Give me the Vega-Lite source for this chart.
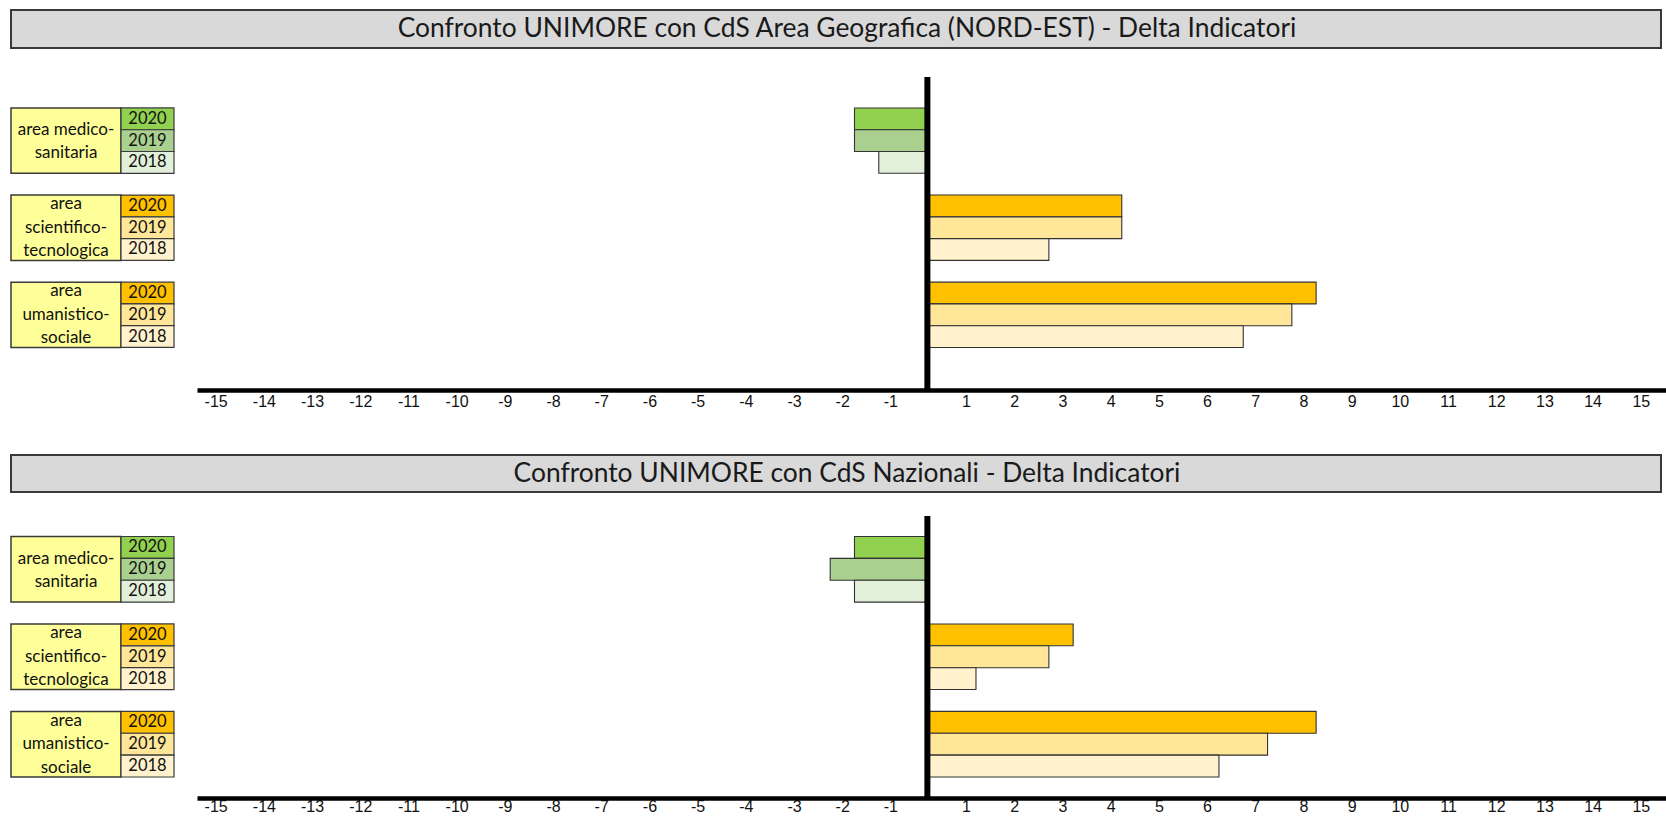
{
  "$schema": "https://vega.github.io/schema/vega-lite/v6.json",
  "padding": {"left": 10, "top": 9, "right": 0, "bottom": 0},
  "background": "white",
  "config": {"view": {"stroke": null}},
  "datasets": {
    "geo": [
      {"area": "area medico-sanitaria", "year": "2020", "row": "area medico-sanitaria 2020", "delta": -1.5},
      {"area": "area medico-sanitaria", "year": "2019", "row": "area medico-sanitaria 2019", "delta": -1.5},
      {"area": "area medico-sanitaria", "year": "2018", "row": "area medico-sanitaria 2018", "delta": -1.0},
      {"area": "area scientifico-tecnologica", "year": "2020", "row": "area scientifico-tecnologica 2020", "delta": 4.0},
      {"area": "area scientifico-tecnologica", "year": "2019", "row": "area scientifico-tecnologica 2019", "delta": 4.0},
      {"area": "area scientifico-tecnologica", "year": "2018", "row": "area scientifico-tecnologica 2018", "delta": 2.5},
      {"area": "area umanistico-sociale", "year": "2020", "row": "area umanistico-sociale 2020", "delta": 8.0},
      {"area": "area umanistico-sociale", "year": "2019", "row": "area umanistico-sociale 2019", "delta": 7.5},
      {"area": "area umanistico-sociale", "year": "2018", "row": "area umanistico-sociale 2018", "delta": 6.5}
    ],
    "naz": [
      {"area": "area medico-sanitaria", "year": "2020", "row": "area medico-sanitaria 2020", "delta": -1.5},
      {"area": "area medico-sanitaria", "year": "2019", "row": "area medico-sanitaria 2019", "delta": -2.0},
      {"area": "area medico-sanitaria", "year": "2018", "row": "area medico-sanitaria 2018", "delta": -1.5},
      {"area": "area scientifico-tecnologica", "year": "2020", "row": "area scientifico-tecnologica 2020", "delta": 3.0},
      {"area": "area scientifico-tecnologica", "year": "2019", "row": "area scientifico-tecnologica 2019", "delta": 2.5},
      {"area": "area scientifico-tecnologica", "year": "2018", "row": "area scientifico-tecnologica 2018", "delta": 1.0},
      {"area": "area umanistico-sociale", "year": "2020", "row": "area umanistico-sociale 2020", "delta": 8.0},
      {"area": "area umanistico-sociale", "year": "2019", "row": "area umanistico-sociale 2019", "delta": 7.0},
      {"area": "area umanistico-sociale", "year": "2018", "row": "area umanistico-sociale 2018", "delta": 6.0}
    ],
    "areas": [
      {"area": "area medico-sanitaria", "label": "area medico-\nsanitaria"},
      {"area": "area scientifico-tecnologica", "label": "area\nscientifico-\ntecnologica"},
      {"area": "area umanistico-sociale", "label": "area\numanistico-\nsociale"}
    ]
  },
  "resolve": {"scale": {"x": "independent", "y": "independent", "fill": "independent"}},
  "spacing": 45,
  "vconcat": [
    {
      "spacing": 25,
      "resolve": {"scale": {"x": "independent", "y": "independent", "fill": "independent"}},
      "vconcat": [
        {
          "width": 1650, "height": 38,
          "view": {"fill": "#D9D9D9", "stroke": "#3a3a3a", "strokeWidth": 2},
          "data": {"values": [{"titolo": "Confronto UNIMORE con CdS Area Geografica (NORD-EST) - Delta Indicatori"}]},
          "mark": {"type": "text", "font": "Lato", "fontSize": 26.4, "dx": 11, "color": "#1a1a1a"},
          "encoding": {"text": {"field": "titolo"}}
        },
        {
          "bounds": "flush",
          "spacing": 0,
          "resolve": {"scale": {"x": "independent", "y": "independent", "fill": "independent"}},
          "hconcat": [
            {
              "width": 110, "height": 313,
              "data": {"name": "areas"},
              "layer": [
                {
                  "mark": {"type": "rect", "fill": "#FFFF99", "stroke": "#3a3a3a", "strokeWidth": 1.5},
                  "encoding": {"y": {"field": "area", "type": "nominal", "sort": null,
                    "scale": {"domain": ["area medico-sanitaria", "area scientifico-tecnologica", "area umanistico-sociale"], "paddingInner": 0.25, "paddingOuter": 0.422, "align": 0.422}, "axis": null}}
                },
                {
                  "transform": [{"filter": "datum.area == 'area medico-sanitaria'"}],
                  "mark": {"type": "text", "font": "Lato", "fontSize": 17, "lineBreak": "\n", "lineHeight": 23, "dy": -10.5, "color": "#111111"},
                  "encoding": {"y": {"field": "area", "type": "nominal", "sort": null,
                    "scale": {"domain": ["area medico-sanitaria", "area scientifico-tecnologica", "area umanistico-sociale"], "paddingInner": 0.25, "paddingOuter": 0.422, "align": 0.422}, "axis": null},
                    "text": {"field": "label"}}
                },
                {
                  "transform": [{"filter": "datum.area != 'area medico-sanitaria'"}],
                  "mark": {"type": "text", "font": "Lato", "fontSize": 17, "lineBreak": "\n", "lineHeight": 23.5, "dy": -23.5, "color": "#111111"},
                  "encoding": {"y": {"field": "area", "type": "nominal", "sort": null,
                    "scale": {"domain": ["area medico-sanitaria", "area scientifico-tecnologica", "area umanistico-sociale"], "paddingInner": 0.25, "paddingOuter": 0.422, "align": 0.422}, "axis": null},
                    "text": {"field": "label"}}
                }
              ]
            },
            {
              "width": 76, "height": 313,
              "data": {"name": "geo"},
              "layer": [
                {
                  "mark": {"type": "rect", "stroke": "#3a3a3a", "strokeWidth": 1.2},
                  "encoding": {
                    "x": {"datum": "anno", "type": "nominal", "scale": {"range": [0, 53], "paddingInner": 0, "paddingOuter": 0}, "axis": null},
                    "y": {"field": "row", "type": "nominal", "scale": {"domain": ["pad_top", "area medico-sanitaria 2020", "area medico-sanitaria 2019", "area medico-sanitaria 2018", "gap1", "area scientifico-tecnologica 2020", "area scientifico-tecnologica 2019", "area scientifico-tecnologica 2018", "gap2", "area umanistico-sociale 2020", "area umanistico-sociale 2019", "area umanistico-sociale 2018", "pad_bottom"], "paddingInner": 0, "paddingOuter": 0.688, "align": 0.307}, "axis": null},
                    "fill": {"field": "row", "type": "nominal", "legend": null, "scale": {"domain": ["area medico-sanitaria 2020", "area medico-sanitaria 2019", "area medico-sanitaria 2018", "area scientifico-tecnologica 2020", "area scientifico-tecnologica 2019", "area scientifico-tecnologica 2018", "area umanistico-sociale 2020", "area umanistico-sociale 2019", "area umanistico-sociale 2018"], "range": ["#92D050", "#A9D08E", "#E2EFDA", "#FFC000", "#FFE699", "#FFF2CC", "#FFC000", "#FFE699", "#FFF2CC"]}}
                  }
                },
                {
                  "mark": {"type": "text", "font": "Lato", "fontSize": 16.5, "color": "#111111"},
                  "encoding": {
                    "x": {"datum": "anno", "type": "nominal", "scale": {"range": [0, 53], "paddingInner": 0, "paddingOuter": 0}, "axis": null},
                    "y": {"field": "row", "type": "nominal", "scale": {"domain": ["pad_top", "area medico-sanitaria 2020", "area medico-sanitaria 2019", "area medico-sanitaria 2018", "gap1", "area scientifico-tecnologica 2020", "area scientifico-tecnologica 2019", "area scientifico-tecnologica 2018", "gap2", "area umanistico-sociale 2020", "area umanistico-sociale 2019", "area umanistico-sociale 2018", "pad_bottom"], "paddingInner": 0, "paddingOuter": 0.688, "align": 0.307}, "axis": null},
                    "text": {"field": "year"}
                  }
                }
              ]
            },
            {
              "width": 1470, "height": 313,
              "data": {"name": "geo"},
              "layer": [
                {
                  "mark": {"type": "bar", "stroke": "#333333", "strokeWidth": 1.1},
                  "encoding": {
                    "x": {"field": "delta", "type": "quantitative",
                      "scale": {"domain": [-15.03, 15.22], "nice": false, "zero": false},
                      "axis": {"title": null, "grid": false, "ticks": false, "tickSize": 0, "domain": true, "domainColor": "#000000", "domainWidth": 4.5,
                        "values": [-14.646, -13.654, -12.663, -11.671, -10.679, -9.687, -8.695, -7.704, -6.712, -5.72, -4.728, -3.737, -2.745, -1.753, -0.761, 0.796, 1.788, 2.78, 3.772, 4.763, 5.755, 6.747, 7.739, 8.73, 9.722, 10.714, 11.706, 12.698, 13.689, 14.681],
                        "labelExpr": "'' + round(datum.value)", "labelFont": "Liberation Sans", "labelFontSize": 16, "labelColor": "#111111", "labelPadding": 3, "labelOverlap": false, "labelFlush": false, "labelBound": false}},
                    "x2": {"datum": 0},
                    "y": {"field": "row", "type": "nominal", "scale": {"domain": ["pad_top", "area medico-sanitaria 2020", "area medico-sanitaria 2019", "area medico-sanitaria 2018", "gap1", "area scientifico-tecnologica 2020", "area scientifico-tecnologica 2019", "area scientifico-tecnologica 2018", "gap2", "area umanistico-sociale 2020", "area umanistico-sociale 2019", "area umanistico-sociale 2018", "pad_bottom"], "paddingInner": 0, "paddingOuter": 0.688, "align": 0.307}, "axis": null},
                    "fill": {"field": "row", "type": "nominal", "legend": null, "scale": {"domain": ["area medico-sanitaria 2020", "area medico-sanitaria 2019", "area medico-sanitaria 2018", "area scientifico-tecnologica 2020", "area scientifico-tecnologica 2019", "area scientifico-tecnologica 2018", "area umanistico-sociale 2020", "area umanistico-sociale 2019", "area umanistico-sociale 2018"], "range": ["#92D050", "#A9D08E", "#E2EFDA", "#FFC000", "#FFE699", "#FFF2CC", "#FFC000", "#FFE699", "#FFF2CC"]}}
                  }
                },
                {
                  "data": {"values": [{"riferimento": 0}]},
                  "mark": {"type": "rule", "color": "#000000", "strokeWidth": 6},
                  "encoding": {"x": {"field": "riferimento", "type": "quantitative"}}
                }
              ]
            }
          ]
        }
      ]
    },
    {
      "spacing": 20,
      "resolve": {"scale": {"x": "independent", "y": "independent", "fill": "independent"}},
      "vconcat": [
        {
          "width": 1650, "height": 37,
          "view": {"fill": "#D9D9D9", "stroke": "#3a3a3a", "strokeWidth": 2},
          "data": {"values": [{"titolo": "Confronto UNIMORE con CdS Nazionali - Delta Indicatori"}]},
          "mark": {"type": "text", "font": "Lato", "fontSize": 26.4, "dx": 11, "color": "#1a1a1a"},
          "encoding": {"text": {"field": "titolo"}}
        },
        {
          "bounds": "flush",
          "spacing": 0,
          "resolve": {"scale": {"x": "independent", "y": "independent", "fill": "independent"}},
          "hconcat": [
            {
              "width": 110, "height": 282,
              "data": {"name": "areas"},
              "layer": [
                {
                  "mark": {"type": "rect", "fill": "#FFFF99", "stroke": "#3a3a3a", "strokeWidth": 1.5},
                  "encoding": {"y": {"field": "area", "type": "nominal", "sort": null,
                    "scale": {"domain": ["area medico-sanitaria", "area scientifico-tecnologica", "area umanistico-sociale"], "paddingInner": 0.25, "paddingOuter": 0.237, "align": 0.494}, "axis": null}}
                },
                {
                  "transform": [{"filter": "datum.area == 'area medico-sanitaria'"}],
                  "mark": {"type": "text", "font": "Lato", "fontSize": 17, "lineBreak": "\n", "lineHeight": 23, "dy": -10.5, "color": "#111111"},
                  "encoding": {"y": {"field": "area", "type": "nominal", "sort": null,
                    "scale": {"domain": ["area medico-sanitaria", "area scientifico-tecnologica", "area umanistico-sociale"], "paddingInner": 0.25, "paddingOuter": 0.237, "align": 0.494}, "axis": null},
                    "text": {"field": "label"}}
                },
                {
                  "transform": [{"filter": "datum.area != 'area medico-sanitaria'"}],
                  "mark": {"type": "text", "font": "Lato", "fontSize": 17, "lineBreak": "\n", "lineHeight": 23.5, "dy": -23.5, "color": "#111111"},
                  "encoding": {"y": {"field": "area", "type": "nominal", "sort": null,
                    "scale": {"domain": ["area medico-sanitaria", "area scientifico-tecnologica", "area umanistico-sociale"], "paddingInner": 0.25, "paddingOuter": 0.237, "align": 0.494}, "axis": null},
                    "text": {"field": "label"}}
                }
              ]
            },
            {
              "width": 76, "height": 282,
              "data": {"name": "naz"},
              "layer": [
                {
                  "mark": {"type": "rect", "stroke": "#3a3a3a", "strokeWidth": 1.2},
                  "encoding": {
                    "x": {"datum": "anno", "type": "nominal", "scale": {"range": [0, 53], "paddingInner": 0, "paddingOuter": 0}, "axis": null},
                    "y": {"field": "row", "type": "nominal", "scale": {"domain": ["area medico-sanitaria 2020", "area medico-sanitaria 2019", "area medico-sanitaria 2018", "gap1", "area scientifico-tecnologica 2020", "area scientifico-tecnologica 2019", "area scientifico-tecnologica 2018", "gap2", "area umanistico-sociale 2020", "area umanistico-sociale 2019", "area umanistico-sociale 2018"], "paddingInner": 0, "paddingOuter": 0.949, "align": 0.494}, "axis": null},
                    "fill": {"field": "row", "type": "nominal", "legend": null, "scale": {"domain": ["area medico-sanitaria 2020", "area medico-sanitaria 2019", "area medico-sanitaria 2018", "area scientifico-tecnologica 2020", "area scientifico-tecnologica 2019", "area scientifico-tecnologica 2018", "area umanistico-sociale 2020", "area umanistico-sociale 2019", "area umanistico-sociale 2018"], "range": ["#92D050", "#A9D08E", "#E2EFDA", "#FFC000", "#FFE699", "#FFF2CC", "#FFC000", "#FFE699", "#FFF2CC"]}}
                  }
                },
                {
                  "mark": {"type": "text", "font": "Lato", "fontSize": 16.5, "color": "#111111"},
                  "encoding": {
                    "x": {"datum": "anno", "type": "nominal", "scale": {"range": [0, 53], "paddingInner": 0, "paddingOuter": 0}, "axis": null},
                    "y": {"field": "row", "type": "nominal", "scale": {"domain": ["area medico-sanitaria 2020", "area medico-sanitaria 2019", "area medico-sanitaria 2018", "gap1", "area scientifico-tecnologica 2020", "area scientifico-tecnologica 2019", "area scientifico-tecnologica 2018", "gap2", "area umanistico-sociale 2020", "area umanistico-sociale 2019", "area umanistico-sociale 2018"], "paddingInner": 0, "paddingOuter": 0.949, "align": 0.494}, "axis": null},
                    "text": {"field": "year"}
                  }
                }
              ]
            },
            {
              "width": 1470, "height": 282,
              "data": {"name": "naz"},
              "layer": [
                {
                  "mark": {"type": "bar", "stroke": "#333333", "strokeWidth": 1.1},
                  "encoding": {
                    "x": {"field": "delta", "type": "quantitative",
                      "scale": {"domain": [-15.03, 15.22], "nice": false, "zero": false},
                      "axis": {"title": null, "grid": false, "ticks": false, "tickSize": 0, "domain": true, "domainColor": "#000000", "domainWidth": 4.5,
                        "values": [-14.646, -13.654, -12.663, -11.671, -10.679, -9.687, -8.695, -7.704, -6.712, -5.72, -4.728, -3.737, -2.745, -1.753, -0.761, 0.796, 1.788, 2.78, 3.772, 4.763, 5.755, 6.747, 7.739, 8.73, 9.722, 10.714, 11.706, 12.698, 13.689, 14.681],
                        "labelExpr": "'' + round(datum.value)", "labelFont": "Liberation Sans", "labelFontSize": 16, "labelColor": "#111111", "labelPadding": 0, "labelOverlap": false, "labelFlush": false, "labelBound": false}},
                    "x2": {"datum": 0},
                    "y": {"field": "row", "type": "nominal", "scale": {"domain": ["area medico-sanitaria 2020", "area medico-sanitaria 2019", "area medico-sanitaria 2018", "gap1", "area scientifico-tecnologica 2020", "area scientifico-tecnologica 2019", "area scientifico-tecnologica 2018", "gap2", "area umanistico-sociale 2020", "area umanistico-sociale 2019", "area umanistico-sociale 2018"], "paddingInner": 0, "paddingOuter": 0.949, "align": 0.494}, "axis": null},
                    "fill": {"field": "row", "type": "nominal", "legend": null, "scale": {"domain": ["area medico-sanitaria 2020", "area medico-sanitaria 2019", "area medico-sanitaria 2018", "area scientifico-tecnologica 2020", "area scientifico-tecnologica 2019", "area scientifico-tecnologica 2018", "area umanistico-sociale 2020", "area umanistico-sociale 2019", "area umanistico-sociale 2018"], "range": ["#92D050", "#A9D08E", "#E2EFDA", "#FFC000", "#FFE699", "#FFF2CC", "#FFC000", "#FFE699", "#FFF2CC"]}}
                  }
                },
                {
                  "data": {"values": [{"riferimento": 0}]},
                  "mark": {"type": "rule", "color": "#000000", "strokeWidth": 6},
                  "encoding": {"x": {"field": "riferimento", "type": "quantitative"}}
                }
              ]
            }
          ]
        }
      ]
    }
  ]
}
